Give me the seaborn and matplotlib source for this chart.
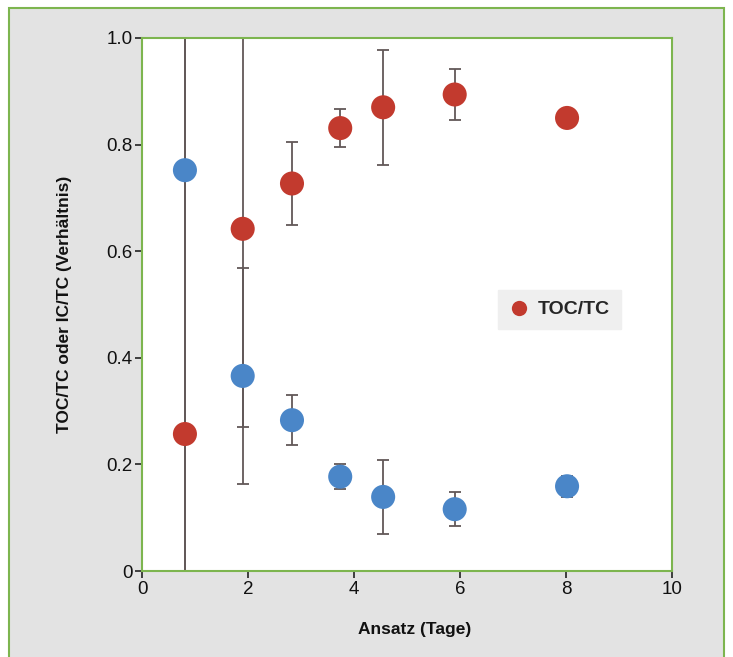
import matplotlib
matplotlib.use("Agg")
import matplotlib.pyplot as plt
import matplotlib.patches as mpatches
import matplotlib.ticker as mticker
import numpy as np
import pandas as pd
import seaborn as sns

# Measurement days and ratios (mean and error) for both fractions
tage = [0.81, 1.90, 2.83, 3.74, 4.55, 5.90, 8.02]
toc_tc = [0.257, 0.642, 0.727, 0.831, 0.870, 0.894, 0.850]
toc_tc_err = [0.80, 0.372, 0.078, 0.035, 0.108, 0.047, 0.0]
ic_tc = [0.752, 0.366, 0.283, 0.177, 0.139, 0.116, 0.159]
ic_tc_err = [0.80, 0.203, 0.047, 0.023, 0.070, 0.032, 0.02]

x_ticks = [0, 2, 4, 6, 8, 10]
y_ticks = [0, 0.2, 0.4, 0.6, 0.8, 1.0]

RED = "#c23a2e"
BLUE = "#4a86c8"
GREEN = "#7db54f"
PANEL = "#e3e3e3"
ERR = "#625858"

sns.set_theme(style="white")
plt.rcParams["font.family"] = ["Liberation Sans", "DejaVu Sans"]

df = pd.DataFrame({
    "Tage": tage + tage,
    "Verhältnis": toc_tc + ic_tc,
    "Fehler": toc_tc_err + ic_tc_err,
    "Serie": ["TOC/TC"] * len(tage) + ["IC/TC"] * len(tage),
})

fig = plt.figure(figsize=(7.33, 6.57), dpi=100)
fig.patch.set_facecolor("white")

# grey panel with green frame behind the plot
frame = mpatches.Rectangle((9 / 733, -0.05), (724 - 9) / 733, 1.05 - 8 / 657,
                           transform=fig.transFigure, facecolor=PANEL,
                           edgecolor=GREEN, linewidth=1.5, zorder=-5)
fig.patches.append(frame)

ax = fig.add_axes([142 / 733, (657 - 571) / 657, 530 / 733, 533 / 657])
ax.set_zorder(2)
ax.set_facecolor("white")

for serie, color in [("TOC/TC", RED), ("IC/TC", BLUE)]:
    sub = df[df["Serie"] == serie]
    ax.errorbar(sub["Tage"], sub["Verhältnis"], yerr=sub["Fehler"], fmt="none",
                ecolor=ERR, elinewidth=1.3, capsize=4.5, capthick=1.3, zorder=2)

sns.scatterplot(data=df, x="Tage", y="Verhältnis", hue="Serie",
                palette={"TOC/TC": RED, "IC/TC": BLUE}, s=300,
                edgecolor="none", linewidth=0, ax=ax, zorder=3, legend=False)

ax.set_xlim(0, 10)
ax.set_ylim(0, 1.0)
ax.set_xticks(x_ticks)
ax.set_yticks(y_ticks)
ax.yaxis.set_major_formatter(mticker.FuncFormatter(
    lambda v, p: "0" if v == 0 else f"{v:.1f}"))

for s in ax.spines.values():
    s.set_color(GREEN)
    s.set_linewidth(1.5)

ax.tick_params(axis="both", direction="out", length=5, width=1.2,
               color="#222222", labelsize=13.5, labelcolor="#111111", pad=2,
               bottom=True, left=True)

ax.set_xlabel("Ansatz (Tage)", fontsize=12.5, fontweight="bold",
              color="#111111")
ax.xaxis.set_label_coords(0.515, -0.095)
ax.set_ylabel("TOC/TC oder IC/TC (Verhältnis)", fontsize=12.5,
              fontweight="bold", color="#111111")
ax.yaxis.set_label_coords(-0.132, 0.5)

handle = plt.Line2D([], [], marker="o", linestyle="none", markersize=11,
                    markerfacecolor=RED, markeredgecolor="none")
leg = ax.legend([handle], ["TOC/TC"], loc="upper left",
                bbox_to_anchor=(0.672, 0.527), frameon=True, fancybox=False,
                facecolor="#efefef", edgecolor="#efefef", framealpha=1,
                handletextpad=0.5, borderpad=0.55, handlelength=1.0,
                borderaxespad=0.0,
                prop={"size": 14, "weight": "bold"})

fig.savefig("out.png", dpi=100)
